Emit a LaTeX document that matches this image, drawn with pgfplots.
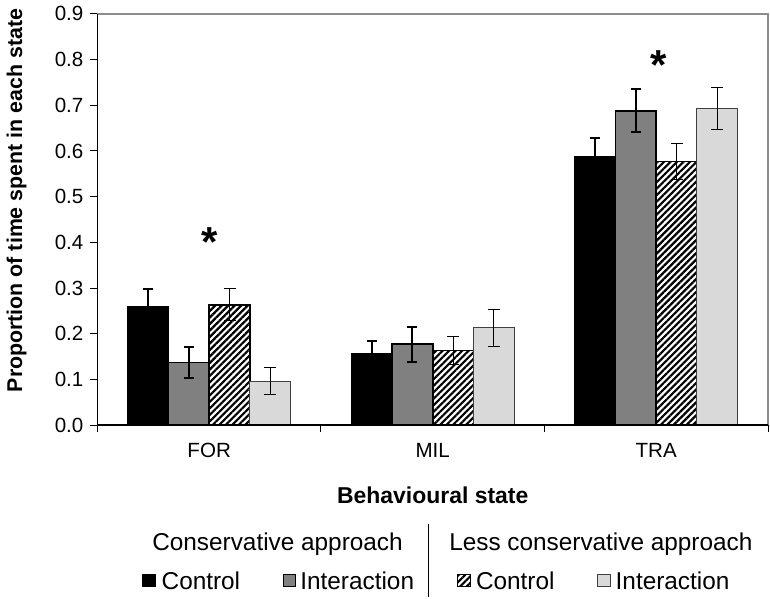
\documentclass[border=0pt]{standalone}
\usepackage{fontspec}
\setmainfont{Liberation Sans}
\usepackage{pgfplots}
\pgfplotsset{compat=1.18}
\usetikzlibrary{patterns.meta}

\definecolor{midgray}{HTML}{808080}
\definecolor{lightgray}{HTML}{D9D9D9}
\definecolor{framegray}{HTML}{8C8C8C}

% one reference pixel = 0.5pt
\tikzset{hatch/.style={pattern={Lines[angle=45,distance=2.3pt,line width=1.1pt]},pattern color=black}}

\begin{document}
\begin{tikzpicture}
\begin{axis}[
    at={(0,0)}, anchor=south west,
    scale only axis,
    width=336pt, height=206pt,
    ybar=0pt, bar width=0.182,
    xmin=-0.5, xmax=2.5,
    ymin=0, ymax=0.9,
    xtick={0,1,2}, xticklabels={FOR,MIL,TRA},
    xtick style={draw=none},
    ytick={0,0.1,...,0.9},
    ytick pos=left,
    tick align=outside,
    major tick length=3.5pt,
    ytick style={black, line width=0.5pt},
    axis line style={framegray, line width=0.6pt},
    yticklabel style={/pgf/number format/.cd, fixed, fixed zerofill, precision=1, assume math mode=true},
    ticklabel style={font=\fontsize{10.3}{12}\selectfont},
    xticklabel style={yshift=-2pt},
    xlabel={Behavioural state},
    xlabel style={font=\fontsize{11.5}{13}\selectfont\bfseries, at={(axis description cs:0.5,-0.17)}, anchor=center},
    ylabel={Proportion of time spent in each state},
    ylabel style={font=\fontsize{10.7}{12}\selectfont\bfseries, at={(axis description cs:-0.1205,0.546)}, anchor=center},
    error bars/y dir=both, error bars/y explicit,
    clip=false,
]
% conservative approach, control
\addplot[fill=black, draw=black, line width=0.6pt,
    error bars/error bar style={black, line width=1pt},
    error bars/error mark options={rotate=90, black, line width=1pt, mark size=2.5pt}]
    coordinates {(0,0.260) +- (0,0.037) (1,0.156) +- (0,0.027) (2,0.588) +- (0,0.040)};
% conservative approach, interaction
\addplot[fill=midgray, draw=black, line width=0.8pt,
    error bars/error bar style={black, line width=1pt},
    error bars/error mark options={rotate=90, black, line width=1pt, mark size=2.5pt}]
    coordinates {(0,0.137) +- (0,0.034) (1,0.177) +- (0,0.038) (2,0.688) +- (0,0.047)};
% less conservative approach, control
\addplot[hatch, draw=black, line width=0.8pt,
    error bars/error bar style={black, line width=0.5pt},
    error bars/error mark options={rotate=90, black, line width=0.5pt, mark size=3pt}]
    coordinates {(0,0.263) +- (0,0.035) (1,0.163) +- (0,0.030) (2,0.577) +- (0,0.040)};
% less conservative approach, interaction
\addplot[fill=lightgray, draw=black!75, line width=0.5pt,
    error bars/error bar style={black, line width=0.5pt},
    error bars/error mark options={rotate=90, black, line width=0.5pt, mark size=3pt}]
    coordinates {(0,0.096) +- (0,0.029) (1,0.213) +- (0,0.041) (2,0.693) +- (0,0.047)};

% left and bottom spines darker, boundary ticks between groups
\draw[black, line width=0.6pt] (rel axis cs:0,1) -- (rel axis cs:0,0) -- (rel axis cs:1,0);
\pgfplotsinvokeforeach{-0.5,0.5,1.5,2.5}{
  \draw[black, line width=0.5pt] (axis cs:#1,0) -- ++(0pt,-3.5pt);
}
% significance marks
\node[font=\fontsize{21}{21}\selectfont\bfseries, inner sep=0pt, anchor=north] at (axis cs:0,0.433) {*};
\node[font=\fontsize{21}{21}\selectfont\bfseries, inner sep=0pt, anchor=north] at (axis cs:2.01,0.82) {*};
\end{axis}

% legend, in reference pixels
\begin{scope}[x=0.5pt, y=-0.5pt, shift={(-48pt,211.5pt)}]
  \path (0,0) rectangle (770,597);
  \begin{scope}[font=\fontsize{12.2}{14}\selectfont]
    \node[anchor=base, inner sep=0pt] at (276.5,549) {Conservative approach};
    \node[anchor=base, inner sep=0pt] at (600.5,549) {Less conservative approach};
    \draw[black, line width=0.6pt] (428,522) -- (428,595);
    \filldraw[fill=black, draw=black, line width=0.4pt] (141.5,572.5) rectangle (154,585);
    \node[anchor=west, inner sep=0pt] at (160,579) {Control};
    \filldraw[fill=midgray, draw=black, line width=0.5pt] (282,572.5) rectangle (294.5,585);
    \node[anchor=west, inner sep=0pt] at (299,579) {Interaction};
    \draw[hatch, draw=black, line width=0.6pt] (456.5,572.5) rectangle (469.5,585);
    \node[anchor=west, inner sep=0pt] at (475,579) {Control};
    \filldraw[fill=lightgray, draw=black!75, line width=0.4pt] (597.5,572.5) rectangle (610.5,585);
    \node[anchor=west, inner sep=0pt] at (615,579) {Interaction};
  \end{scope}
\end{scope}
\end{tikzpicture}
\end{document}
